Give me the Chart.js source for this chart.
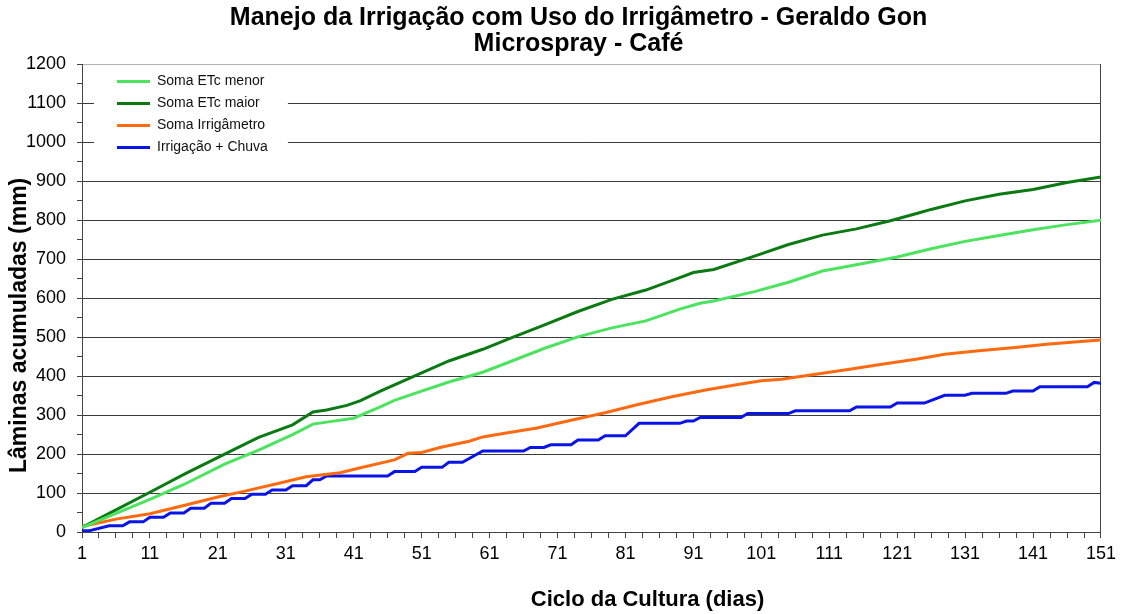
<!DOCTYPE html>
<html><head><meta charset="utf-8">
<script src="https://cdn.jsdelivr.net/npm/chart.js@4"></script>
<style>html,body{margin:0;padding:0;background:#fff}</style>
</head><body>
<canvas id="c" width="1121" height="614"></canvas>
<script>
const titulo = ['Manejo da Irrigação com Uso do Irrigâmetro - Geraldo Gon', 'Microspray - Café'];
const tituloY = 'Lâminas acumuladas (mm)';
const tituloX = 'Ciclo da Cultura (dias)';
const rotulosX = [1, 11, 21, 31, 41, 51, 61, 71, 81, 91, 101, 111, 121, 131, 141, 151];
const rotulosY = [0, 100, 200, 300, 400, 500, 600, 700, 800, 900, 1000, 1100, 1200];
const nomesSeries = ['Soma ETc menor', 'Soma ETc maior', 'Soma Irrigâmetro', 'Irrigação + Chuva'];

const etcMenorDias = [1,6,11,16,22,27,32,35,37,41,45,47,50,55,60,64,69,74,79,84,89,92,94,100,105,110,115,121,126,131,136,141,146,151];
const etcMenorVals = [11,48,84,122,174,210,250,277,282,292,322,338,356,385,410,437,471,501,524,542,572,587,593,617,641,670,686,706,727,746,761,776,789,800];

const etcMaiorDias = [1,6,11,16,22,27,32,35,37,40,42,45,50,55,60,64,69,74,79,84,89,91,94,100,105,110,115,120,124,126,131,136,141,146,151];
const etcMaiorVals = [12,57,102,148,200,243,275,308,313,325,337,362,401,439,469,497,531,566,597,621,653,666,674,708,738,762,778,799,818,828,850,867,879,897,911];

const irrigDias = [1,6,11,16,21,25,30,34,39,42,47,49,51,54,58,60,63,68,73,78,83,88,93,98,101,104,109,114,119,124,128,133,138,143,148,151];
const irrigVals = [14,33,47,68,90,105,125,142,152,165,185,202,204,218,233,244,253,267,287,306,328,348,365,380,388,392,405,418,431,444,456,465,473,482,489,493];

const chuvaDias = [1,2,5,7,8,10,11,13,14,16,17,19,20,22,23,25,26,28,29,31,32,34,35,36,37,46,47,50,51,54,55,57,60,66,67,69,70,73,74,77,78,81,83,89,90,91,92,98,99,105,106,114,115,120,121,125,128,131,132,137,138,141,142,149,150,151];
const chuvaVals = [3,3,16,16,26,26,38,38,49,49,61,61,74,74,86,86,97,97,108,108,119,119,134,134,144,144,155,155,166,166,179,179,208,208,217,217,224,224,236,236,247,247,279,279,285,285,294,294,304,304,311,311,321,321,331,331,351,351,356,356,362,362,373,373,384,382];

const FONT = "'Liberation Sans', Arial, sans-serif";
Chart.defaults.font.family = FONT;
Chart.defaults.color = '#000';

function pontos(d, v) { return d.map((x, i) => ({x: x, y: v[i]})); }

const axisTitles = {
  id: 'axisTitles',
  afterDraw(chart) {
    const ctx = chart.ctx, a = chart.chartArea;
    ctx.save();
    ctx.fillStyle = '#000';
    ctx.textAlign = 'center';
    ctx.textBaseline = 'middle';
    ctx.font = 'bold 22px ' + FONT;
    ctx.fillText(tituloX, a.left + (a.right - a.left) * 0.555, a.bottom + 68);
    ctx.font = 'bold 23px ' + FONT;
    ctx.translate(20, a.top + (a.bottom - a.top) * 0.558);
    ctx.rotate(-Math.PI / 2);
    ctx.fillText(tituloY, 0, 0);
    ctx.restore();
  }
};

const boxAdjust = {
  id: 'boxAdjust',
  afterLayout(chart) {
    const lg = chart.legend, a = chart.chartArea;
    const w = lg.width, h = lg.height;
    lg.left = a.left + 27; lg.right = lg.left + w;
    lg.top = a.top + 2; lg.bottom = lg.top + h;
    const tb = chart.titleBlock;
    if (tb) { tb.left += 27; tb.right += 27; }
  },
  beforeDatasetsDraw(chart) {
    const lg = chart.legend, ctx = chart.ctx;
    const hb = lg.legendHitBoxes || [];
    let bottom = lg.top + 95;
    if (hb.length) { const last = hb[hb.length - 1]; bottom = last.top + last.height + 8; }
    ctx.save();
    ctx.fillStyle = '#fff';
    ctx.fillRect(lg.left - 15, lg.top, lg.width + 25, bottom - lg.top);
    ctx.restore();
    lg.draw();
  }
};

new Chart(document.getElementById('c'), {
  type: 'line',
  data: {
    datasets: [
      {label: nomesSeries[0], data: pontos(etcMenorDias, etcMenorVals), borderColor: '#4ce35f', backgroundColor: '#4ce35f', pointBorderColor: '#4ce35f'},
      {label: nomesSeries[1], data: pontos(etcMaiorDias, etcMaiorVals), borderColor: '#0b7a13', backgroundColor: '#0b7a13', pointBorderColor: '#0b7a13'},
      {label: nomesSeries[2], data: pontos(irrigDias, irrigVals), borderColor: '#ff6a10', backgroundColor: '#ff6a10', pointBorderColor: '#ff6a10'},
      {label: nomesSeries[3], data: pontos(chuvaDias, chuvaVals), borderColor: '#0a14e6', backgroundColor: '#0a14e6', pointBorderColor: '#0a14e6'}
    ]
  },
  options: {
    responsive: false,
    animation: false,
    devicePixelRatio: 1,
    layout: {padding: {left: 0, right: 18, top: 0, bottom: 0}},
    elements: {
      line: {borderWidth: 3, tension: 0, fill: false},
      point: {radius: 0, hoverRadius: 0, borderWidth: 3}
    },
    plugins: {
      title: {
        display: true, text: titulo, color: '#000',
        font: {size: 25, weight: 'bold', family: FONT, lineHeight: 1.05},
        padding: {top: 5, bottom: 7}
      },
      legend: {
        position: 'chartArea', align: 'start',
        labels: {
          usePointStyle: true, pointStyle: 'line', pointStyleWidth: 33,
          boxHeight: 14, padding: 8, color: '#111',
          font: {size: 14, family: FONT}
        }
      },
      tooltip: {enabled: false}
    },
    scales: {
      x: {
        type: 'linear', min: 1, max: 151,
        afterBuildTicks: (s) => { const t = []; for (let v = 1; v <= 151; v += 2.5) t.push({value: v}); s.ticks = t; },
        afterFit: (s) => { s.height = 82; },
        ticks: {
          autoSkip: false, maxRotation: 0, minRotation: 0, padding: 5, color: '#000',
          font: {size: 18, family: FONT},
          callback: (v) => rotulosX.includes(v) ? String(v) : ''
        },
        grid: {drawOnChartArea: false, drawTicks: true, tickLength: 6, color: '#444', tickColor: '#444'},
        border: {display: true, color: '#444', width: 1}
      },
      y: {
        type: 'linear', min: 0, max: 1200,
        afterBuildTicks: (s) => { const t = []; for (let v = 0; v <= 1200; v += 50) t.push({value: v}); s.ticks = t; },
        afterFit: (s) => { s.width = 82; },
        ticks: {
          autoSkip: false, padding: 11, color: '#000',
          font: {size: 18, family: FONT},
          callback: (v) => rotulosY.includes(v) ? String(v) : ''
        },
        grid: {
          tickLength: 5, tickColor: '#444', lineWidth: 1,
          color: (c) => c.tick && c.tick.value === 1200 ? '#b4b4b4' : (c.tick && c.tick.value % 100 === 0 ? '#3c3c3c' : 'rgba(0,0,0,0)')
        },
        border: {display: true, color: '#444', width: 1}
      },
      y2: {
        type: 'linear', position: 'right', min: 0, max: 1200,
        afterFit: (s) => { s.width = 0; },
        ticks: {display: false},
        grid: {drawOnChartArea: false, drawTicks: false},
        border: {display: true, color: '#444', width: 1}
      }
    }
  },
  plugins: [boxAdjust, axisTitles]
});
</script>
</body></html>
